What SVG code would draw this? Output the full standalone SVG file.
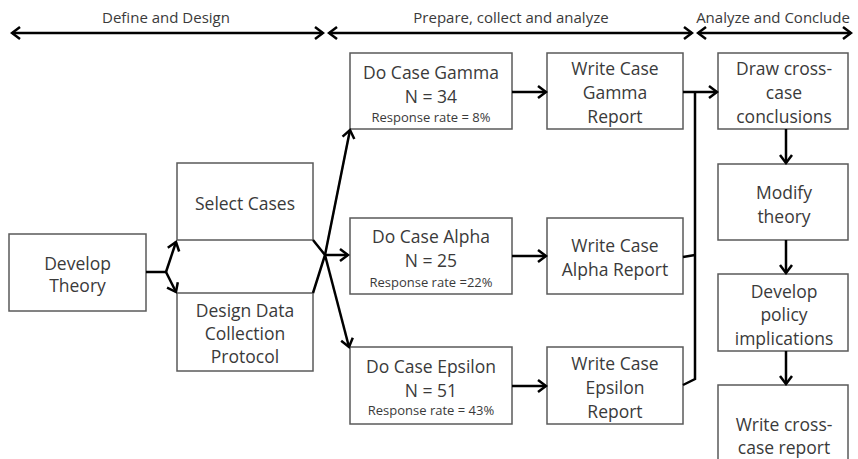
<svg xmlns="http://www.w3.org/2000/svg" width="858" height="459" viewBox="0 0 858 459">
  <defs>
    <marker id="arr" viewBox="-10 -8 12 16" markerWidth="12" markerHeight="16" refX="0" refY="0" orient="auto-start-reverse" markerUnits="userSpaceOnUse">
      <path d="M-8,-6 L0,0 L-8,6" fill="none" stroke="#000" stroke-width="2.5" stroke-linejoin="miter"/>
    </marker>
    <style>
      .box { fill: #fff; stroke: #5a5a5a; stroke-width: 1.5; }
      .t { font-family: "Open Sans", "Liberation Sans", sans-serif; font-size: 17.5px; fill: #3a3a3a; text-anchor: middle; }
      .s { font-size: 13px; }
      .h { font-family: "Open Sans", "Liberation Sans", sans-serif; font-size: 15px; fill: #3a3a3a; text-anchor: middle; }
      .c { fill: none; stroke: #000; stroke-width: 2.5; }
      .ca { fill: none; stroke: #000; stroke-width: 2.5; marker-end: url(#arr); }
    </style>
  </defs>

  <!-- phase headers -->
  <g id="phases">
    <text class="h" x="166" y="23">Define and Design</text>
    <text class="h" x="511" y="23">Prepare, collect and analyze</text>
    <text class="h" x="773" y="23">Analyze and Conclude</text>
    <line class="c" x1="12" y1="33" x2="323" y2="33" marker-start="url(#arr)" marker-end="url(#arr)"/>
    <line class="c" x1="329" y1="33" x2="692" y2="33" marker-start="url(#arr)" marker-end="url(#arr)"/>
    <line class="c" x1="698" y1="33" x2="851" y2="33" marker-start="url(#arr)" marker-end="url(#arr)"/>
  </g>

  <g id="develop-theory">
    <rect class="box" x="9" y="234" width="137" height="77"/>
    <text class="t" x="77.5" y="270">Develop</text>
    <text class="t" x="77.5" y="292">Theory</text>
  </g>

  <g id="select-cases">
    <rect class="box" x="177" y="163" width="136" height="77"/>
    <text class="t" x="245" y="210">Select Cases</text>
  </g>

  <g id="design-protocol">
    <rect class="box" x="177" y="293" width="136" height="78"/>
    <text class="t" x="245" y="317">Design Data</text>
    <text class="t" x="245" y="340">Collection</text>
    <text class="t" x="245" y="363">Protocol</text>
  </g>

  <g id="case-gamma">
    <rect class="box" x="350" y="53" width="162" height="76"/>
    <text class="t" x="431" y="79">Do Case Gamma</text>
    <text class="t" x="431" y="103">N = 34</text>
    <text class="t s" x="431" y="122">Response rate = 8%</text>
  </g>

  <g id="case-alpha">
    <rect class="box" x="350" y="218" width="162" height="76"/>
    <text class="t" x="431" y="243">Do Case Alpha</text>
    <text class="t" x="431" y="267">N = 25</text>
    <text class="t s" x="431" y="287">Response rate =22%</text>
  </g>

  <g id="case-epsilon">
    <rect class="box" x="350" y="347" width="162" height="77"/>
    <text class="t" x="431" y="373">Do Case Epsilon</text>
    <text class="t" x="431" y="397">N = 51</text>
    <text class="t s" x="431" y="415">Response rate = 43%</text>
  </g>

  <g id="report-gamma">
    <rect class="box" x="547" y="53" width="136" height="76"/>
    <text class="t" x="615" y="75">Write Case</text>
    <text class="t" x="615" y="99">Gamma</text>
    <text class="t" x="615" y="123">Report</text>
  </g>

  <g id="report-alpha">
    <rect class="box" x="547" y="218" width="136" height="76"/>
    <text class="t" x="615" y="252">Write Case</text>
    <text class="t" x="615" y="276">Alpha Report</text>
  </g>

  <g id="report-epsilon">
    <rect class="box" x="547" y="347" width="136" height="77"/>
    <text class="t" x="615" y="370">Write Case</text>
    <text class="t" x="615" y="394">Epsilon</text>
    <text class="t" x="615" y="418">Report</text>
  </g>

  <g id="cross-conclusions">
    <rect class="box" x="718" y="53" width="130" height="76"/>
    <text class="t" x="784" y="75">Draw cross-</text>
    <text class="t" x="784" y="99">case</text>
    <text class="t" x="784" y="123">conclusions</text>
  </g>

  <g id="modify-theory">
    <rect class="box" x="718" y="164" width="130" height="76"/>
    <text class="t" x="784" y="199">Modify</text>
    <text class="t" x="784" y="223">theory</text>
  </g>

  <g id="policy">
    <rect class="box" x="718" y="274" width="130" height="77"/>
    <text class="t" x="784" y="298">Develop</text>
    <text class="t" x="784" y="321">policy</text>
    <text class="t" x="784" y="345">implications</text>
  </g>

  <g id="cross-report">
    <rect class="box" x="718" y="385" width="130" height="80"/>
    <text class="t" x="784" y="431">Write cross-</text>
    <text class="t" x="784" y="454">case report</text>
  </g>

  <g id="connectors">
    <!-- theory fork -->
    <polyline class="c" points="146,272 166,272"/>
    <line class="ca" x1="166" y1="272" x2="176" y2="242"/>
    <line class="ca" x1="166" y1="272" x2="176" y2="292"/>
    <!-- merge of design steps -->
    <polyline class="c" points="313,240 325,255 313,293"/>
    <!-- fan out to the cases -->
    <line class="ca" x1="325" y1="255" x2="350" y2="130"/>
    <line class="ca" x1="325" y1="255" x2="348" y2="255"/>
    <line class="ca" x1="325" y1="255" x2="349" y2="347"/>
    <!-- case to report -->
    <line class="ca" x1="512" y1="92" x2="546" y2="92"/>
    <line class="ca" x1="512" y1="256" x2="546" y2="256"/>
    <line class="ca" x1="512" y1="386" x2="546" y2="386"/>
    <!-- reports gathered into conclusions -->
    <polyline class="c" points="683,385 695,379 695,92"/>
    <polyline class="c" points="683,257 695,255"/>
    <line class="ca" x1="683" y1="92" x2="717" y2="92"/>
    <!-- conclusion chain -->
    <line class="ca" x1="786" y1="129" x2="786" y2="163"/>
    <line class="ca" x1="786" y1="240" x2="786" y2="273"/>
    <line class="ca" x1="786" y1="351" x2="786" y2="384"/>
  </g>
</svg>
